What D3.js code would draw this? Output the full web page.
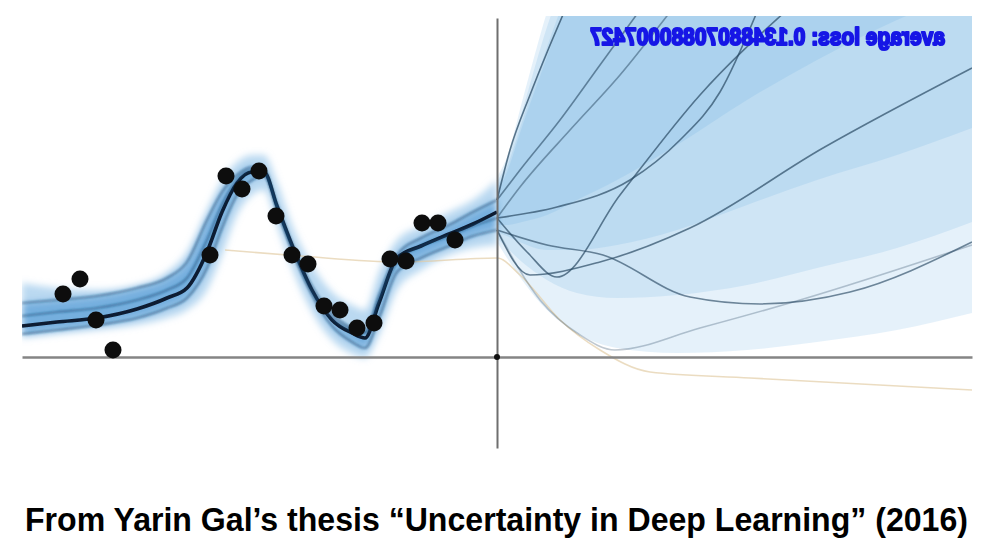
<!DOCTYPE html>
<html>
<head>
<meta charset="utf-8">
<script src="https://cdn.jsdelivr.net/npm/d3@7"></script>
<style>
  body { margin: 0; background: #fff; }
  svg { display: block; }
</style>
</head>
<body>
<svg id="chart" width="988" height="558"></svg>
<script>
// observed training points
var dotX = [-4.34, -4.17, -4.01, -3.84, -2.87, -2.71, -2.55, -2.38, -2.21, -2.05,
            -1.89, -1.73, -1.57, -1.40, -1.23, -1.07, -0.91, -0.75, -0.59, -0.42];
var dotY = [0.63, 0.78, 0.37, 0.07, 1.02, 1.81, 1.68, 1.86, 1.41, 1.02,
            0.93, 0.51, 0.47, 0.29, 0.34, 0.98, 0.96, 1.34, 1.34, 1.17];

// fit on the data range
var leftX = [-4.75, -4.4, -4.0, -3.6, -3.3, -3.1, -2.9, -2.75, -2.6, -2.45, -2.33, -2.2,
             -2.05, -1.85, -1.65, -1.45, -1.32, -1.18, -1.0, -0.76, -0.48, -0.24, 0];
var meanY   = [0.31, 0.35, 0.39, 0.48, 0.59, 0.69, 1.05, 1.45, 1.74, 1.85, 1.85, 1.51,
               1.12, 0.67, 0.37, 0.24, 0.19, 0.54, 0.99, 1.11, 1.23, 1.33, 1.45];
var upperY  = [0.54, 0.57, 0.61, 0.69, 0.79, 0.95, 1.37, 1.65, 1.82, 1.90, 1.85, 1.47,
               1.07, 0.65, 0.39, 0.27, 0.25, 0.62, 1.02, 1.19, 1.32, 1.45, 1.57];
var midY    = [0.41, 0.45, 0.49, 0.57, 0.67, 0.79, 1.17, 1.52, 1.77, 1.87, 1.87, 1.53,
               1.14, 0.71, 0.43, 0.29, 0.24, 0.57, 0.95, 1.11, 1.21, 1.31, 1.39];
var lowerY  = [0.23, 0.27, 0.32, 0.39, 0.49, 0.59, 0.89, 1.29, 1.62, 1.77, 1.81, 1.49,
               1.07, 0.62, 0.31, 0.15, 0.09, 0.39, 0.85, 0.99, 1.11, 1.21, 1.27];
var bandLow  = [0.19, 0.23, 0.27, 0.32, 0.39, 0.47, 0.67, 1.02, 1.42, 1.62, 1.67, 1.32,
                0.89, 0.45, 0.17, 0.03, -0.01, 0.22, 0.67, 0.87, 1.02, 1.09, 1.12];
var bandHigh = [0.74, 0.69, 0.67, 0.72, 0.85, 1.05, 1.47, 1.77, 1.95, 2.02, 2.02, 1.75,
                1.32, 0.92, 0.65, 0.52, 0.47, 0.85, 1.17, 1.31, 1.45, 1.57, 1.77];

// extrapolation bands
var rightX = [0, 0.1, 0.25, 0.5, 0.8, 1.2, 1.8, 2.5, 3.2, 4.0, 4.75];
var b1Low  = [1.15, 0.99, 0.77, 0.47, 0.24, 0.09, 0.04, 0.07, 0.15, 0.27, 0.44];
var b1High = [1.80, 2.00, 2.55, 3.45, 4.3, 5.0, 5.5, 6.0, 6.5, 7.0, 7.5];
var b2Low  = [1.19, 1.09, 0.95, 0.77, 0.64, 0.59, 0.62, 0.72, 0.89, 1.09, 1.35];
var b2High = [1.75, 1.95, 2.45, 3.3, 4.1, 5.0, 5.5, 6.0, 6.5, 7.0, 7.5];
var b3Low  = [1.25, 1.21, 1.14, 1.07, 1.07, 1.12, 1.27, 1.52, 1.77, 2.02, 2.29];
var b3High = [1.70, 1.90, 2.35, 3.1, 3.9, 4.8, 5.5, 6.0, 6.5, 7.0, 7.5];
var b4Low  = [1.32, 1.32, 1.35, 1.42, 1.57, 1.77, 2.12, 2.57, 2.97, 3.37, 3.67];
var b4High = [1.65, 1.85, 2.30, 3.0, 3.8, 4.6, 5.5, 6.0, 6.5, 7.0, 7.5];

// sampled functions past x = 0, each continuing one of the left curves
var rightLines = [
  { from: "upper", op: 0.75, pts: [[0.13, 2.07], [0.33, 2.62], [0.51, 3.07], [0.68, 3.47]] },
  { from: "upper", op: 0.6,  pts: [[0.23, 1.87], [0.63, 2.37], [1.03, 2.92], [1.43, 3.47]] },
  { from: "mid",   op: 0.5,  pts: [[0.23, 1.70], [0.73, 2.27], [1.23, 2.82], [1.73, 3.45]] },
  { from: "mid",   op: 0.7,  pts: [[0.6, 1.50], [1.33, 1.77], [1.83, 2.17], [2.23, 2.65], [2.6, 3.45]] },
  { from: "mid",   op: 0.7,  pts: [[0.3, 1.05], [0.6, 0.80], [1.23, 1.62], [2.03, 2.62], [2.9, 3.47]] },
  { from: "lower", op: 0.7,  pts: [[0.33, 0.82], [1.03, 0.95], [1.93, 1.29], [3.26, 2.09], [4.75, 2.89]] },
  { from: "lower", op: 0.65, pts: [[0.5, 1.12], [1.06, 1.02], [1.93, 0.60], [2.63, 0.53], [3.53, 0.65], [4.75, 1.15]] },
  { from: "lower", op: 0.3,  pts: [[0.43, 0.57], [0.83, 0.22], [1.18, 0.07], [2.03, 0.29], [3.03, 0.57], [4.75, 1.12]] }
];

var priorLine = [[-2.72, 1.07], [-1.97, 1.01], [-0.97, 0.95], [0, 0.99], [0.23, 0.82],
                 [0.63, 0.37], [1.03, 0.07], [1.53, -0.15], [2.53, -0.21], [4.75, -0.33]];

var lossText = "average loss: 0.13488070880007427";
var caption = "From Yarin Gal\u2019s thesis \u201cUncertainty in Deep Learning\u201d (2016)";

var svg = d3.select("#chart");

var x = d3.scaleLinear().domain([-4.75, 4.75]).range([22, 972]);
var y = d3.scaleLinear().domain([-0.91, 3.39]).range([448, 18]);

var defs = svg.append("defs");
defs.append("clipPath").attr("id", "plotclip")
    .append("rect")
    .attr("x", x(-4.75)).attr("y", 16)
    .attr("width", x(4.75) - x(-4.75)).attr("height", 448 - 16);
defs.append("filter").attr("id", "soft").attr("x", "-10%").attr("y", "-10%")
    .attr("width", "120%").attr("height", "120%")
    .append("feGaussianBlur").attr("stdDeviation", 3.5);
defs.append("filter").attr("id", "blur1")
    .append("feGaussianBlur").attr("stdDeviation", 0.7);
defs.append("filter").attr("id", "blur2")
    .append("feGaussianBlur").attr("stdDeviation", 1.2);

var plot = svg.append("g").attr("clip-path", "url(#plotclip)");

var zip = (xs, ys) => xs.map((v, i) => [v, ys[i]]);

var area = d3.area()
    .x(d => x(d[0]))
    .y0(d => y(d[1]))
    .y1(d => y(d[2]))
    .curve(d3.curveMonotoneX);

var line = d3.line()
    .x(d => x(d[0]))
    .y(d => y(d[1]))
    .curve(d3.curveMonotoneX);

// extrapolation bands
[[b1Low, b1High], [b2Low, b2High], [b3Low, b3High], [b4Low, b4High]].forEach(b => {
    plot.append("path")
        .datum(rightX.map((v, i) => [v, b[0][i], b[1][i]]))
        .attr("d", area)
        .attr("fill", "#5ca6dc")
        .attr("fill-opacity", 0.155);
});

// bands around the fit
var soft = plot.append("g").attr("filter", "url(#soft)");
soft.append("path")
    .datum(leftX.map((v, i) => [v, bandLow[i], bandHigh[i]]))
    .attr("d", area)
    .attr("fill", "#8cc0e8")
    .attr("fill-opacity", 0.6);
soft.append("path")
    .datum(leftX.map((v, i) => [v, lowerY[i], upperY[i]]))
    .attr("d", area)
    .attr("fill", "#3d8ccf")
    .attr("fill-opacity", 0.55);

// axes without ticks
svg.append("g")
    .attr("transform", "translate(0," + y(0) + ")")
    .call(d3.axisBottom(x).tickValues([]).tickSizeOuter(0))
    .select(".domain").attr("stroke", "#858585").attr("stroke-width", 2.5);
svg.append("g")
    .attr("transform", "translate(" + x(0) + ",0)")
    .call(d3.axisLeft(y).tickValues([]).tickSizeOuter(0))
    .select(".domain").attr("stroke", "#6f6f6f").attr("stroke-width", 2);

var lines = plot.append("g").attr("filter", "url(#blur1)");

lines.append("path")
    .datum(priorLine)
    .attr("d", line)
    .attr("fill", "none")
    .attr("stroke", "#e3cda6")
    .attr("stroke-width", 1.6)
    .attr("stroke-opacity", 0.7);

var leftCurves = { upper: upperY, mid: midY, lower: lowerY };

rightLines.forEach(r => {
    lines.append("path")
        .datum([[0, leftCurves[r.from][leftX.length - 1]]].concat(r.pts))
        .attr("d", line)
        .attr("fill", "none")
        .attr("stroke", "#2a4a64")
        .attr("stroke-width", 1.6)
        .attr("stroke-opacity", r.op);
});

// left sample curves, softer like the blurred source
var leftLines = plot.append("g").attr("filter", "url(#blur2)");
["upper", "mid", "lower"].forEach(k => {
    leftLines.append("path")
        .datum(zip(leftX, leftCurves[k]))
        .attr("d", line)
        .attr("fill", "none")
        .attr("stroke", "#184a78")
        .attr("stroke-width", 2.2)
        .attr("stroke-opacity", 0.55);
});

lines.append("path")
    .datum(zip(leftX, meanY))
    .attr("d", line)
    .attr("fill", "none")
    .attr("stroke", "#0a1a30")
    .attr("stroke-width", 3.6);

// origin marker
svg.append("circle")
    .attr("cx", x(0)).attr("cy", y(0)).attr("r", 3)
    .attr("fill", "#111");

// data points
svg.append("g").attr("filter", "url(#blur1)")
    .selectAll("circle")
    .data(zip(dotX, dotY))
    .enter()
    .append("circle")
    .attr("cx", d => x(d[0]))
    .attr("cy", d => y(d[1]))
    .attr("r", 8.5)
    .attr("fill", "#0d0d0d");

// mirrored loss label
svg.append("g")
    .attr("transform", "translate(945,45) scale(-1,1)")
    .attr("filter", "url(#blur1)")
    .append("text")
    .attr("x", 0).attr("y", 0)
    .attr("textLength", 355)
    .attr("lengthAdjust", "spacingAndGlyphs")
    .style("font-family", "'Liberation Sans', Arial, sans-serif")
    .style("font-weight", "bold")
    .style("font-size", "24px")
    .attr("fill", "#1414e6")
    .attr("stroke", "#1414e6")
    .attr("stroke-width", 2.2)
    .attr("stroke-linejoin", "round")
    .text(lossText);

// caption, stretched a little in height like the source
svg.append("g")
    .attr("transform", "translate(0,531) scale(1,1.1)")
    .append("text")
    .attr("x", 25).attr("y", 0)
    .attr("textLength", 943)
    .attr("lengthAdjust", "spacingAndGlyphs")
    .style("font-family", "'Liberation Sans Narrow', 'Liberation Sans', Arial, sans-serif")
    .style("font-weight", "bold")
    .style("font-size", "30px")
    .attr("fill", "#000")
    .text(caption);
</script>
</body>
</html>
